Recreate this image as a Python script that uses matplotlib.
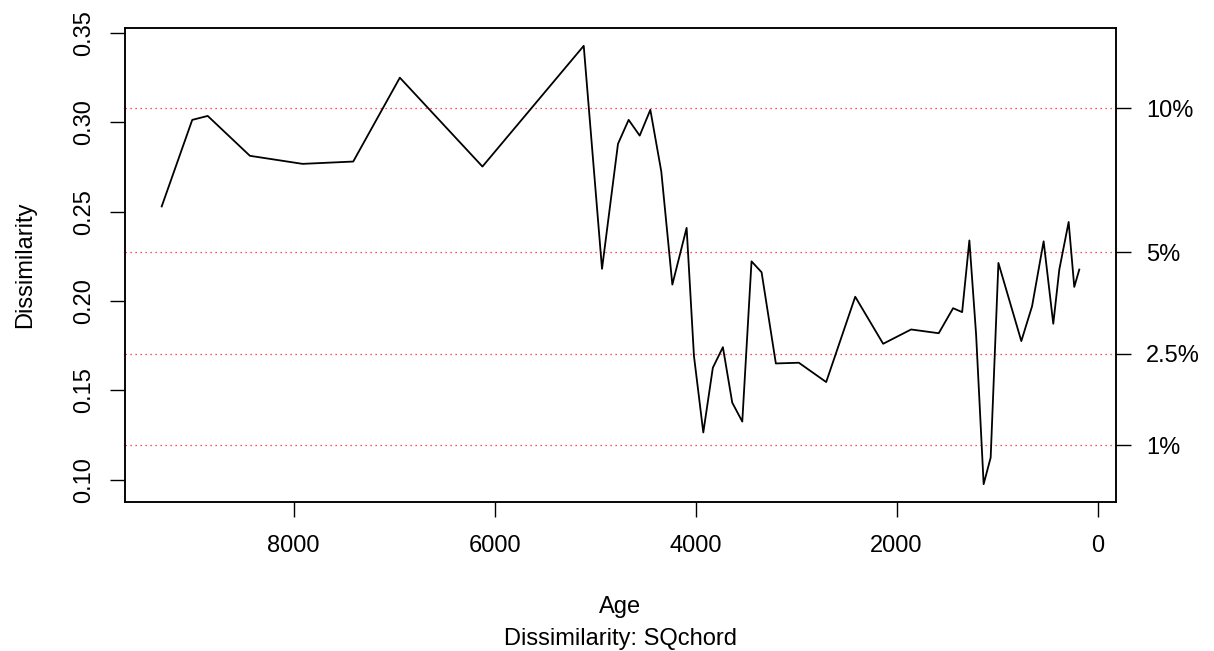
import matplotlib
matplotlib.use("Agg")
import matplotlib.pyplot as plt
import numpy as np

plt.rcParams['font.family'] = ['Liberation Sans', 'DejaVu Sans']

age = [9314, 9010, 8856, 8436, 7912, 7408, 6944, 6122, 5114, 4932,
       4773, 4667, 4557, 4451, 4342, 4232, 4090, 4017, 3924, 3829,
       3729, 3636, 3536, 3444, 3344, 3202, 2973, 2701, 2412, 2134,
       1856, 1581, 1438, 1348, 1276, 1209, 1134, 1064, 987, 759,
       652, 537, 441, 381, 288, 232, 182]
dissim = [0.2529, 0.3013, 0.3035, 0.2812, 0.2767, 0.2780, 0.3249, 0.2752, 0.3427, 0.2180,
          0.2879, 0.3013, 0.2925, 0.3069, 0.2724, 0.2092, 0.2409, 0.1693, 0.1265, 0.1627,
          0.1742, 0.1432, 0.1326, 0.2222, 0.2161, 0.1651, 0.1655, 0.1547, 0.2024, 0.1761,
          0.1841, 0.1820, 0.1960, 0.1938, 0.2339, 0.1813, 0.0976, 0.1125, 0.2213, 0.1776,
          0.1971, 0.2334, 0.1873, 0.2176, 0.2442, 0.2079, 0.2176]

quantile_labels = ["10%", "5%", "2.5%", "1%"]
quantile_values = [0.3078, 0.2272, 0.1705, 0.1195]

x_ticks = [8000, 6000, 4000, 2000, 0]
y_ticks = [0.10, 0.15, 0.20, 0.25, 0.30, 0.35]
y_ticklabels = ["0.10", "0.15", "0.20", "0.25", "0.30", "0.35"]

W, H = 1214, 651
fig = plt.figure(figsize=(W / 100, H / 100), dpi=100)
ax = fig.add_axes([125 / W, 1 - 501.7 / H, (1116 - 125) / W, (501.7 - 28.3) / H])

FS = 17

for q in quantile_values:
    ax.axhline(q, color='red', linestyle=(0, (1, 3)), linewidth=0.9, alpha=0.9, zorder=1)

ax.plot(age, dissim, color='black', linewidth=1.3, zorder=3)

xmin, xmax = min(age), max(age)
xr = xmax - xmin
ymin, ymax = min(dissim), max(dissim)
yr = ymax - ymin
ax.set_xlim(xmax + 0.04 * xr, xmin - 0.04 * xr)
ax.set_ylim(ymin - 0.04 * yr, ymax + 0.04 * yr)

ax.set_xticks(x_ticks)
ax.set_xticklabels([str(t) for t in x_ticks])
ax.set_yticks(y_ticks)
ax.set_yticklabels(y_ticklabels, rotation=90, va='center')

ax.tick_params(axis='x', length=10.8, width=1.0, pad=13.5, labelsize=FS)
ax.tick_params(axis='y', length=10.8, width=1.0, pad=10.8, labelsize=FS)

for s in ax.spines.values():
    s.set_linewidth(1.1)

ax2 = ax.twinx()
ax2.set_ylim(ax.get_ylim())
ax2.set_yticks(quantile_values)
ax2.set_yticklabels(quantile_labels)
ax2.tick_params(axis='y', length=10.8, width=1.0, pad=10.8, labelsize=FS)
for s in ax2.spines.values():
    s.set_linewidth(1.1)

fig.text(620.5 / W, 1 - 613.5 / H, "Age", ha='center', va='baseline', fontsize=FS)
fig.text(620.5 / W, 1 - 645 / H, "Dissimilarity: SQchord", ha='center', va='baseline', fontsize=FS)
fig.text(25 / W, 1 - 265 / H, "Dissimilarity", ha='center', va='center', rotation=90, fontsize=FS)

fig.savefig("out.png", dpi=100)
